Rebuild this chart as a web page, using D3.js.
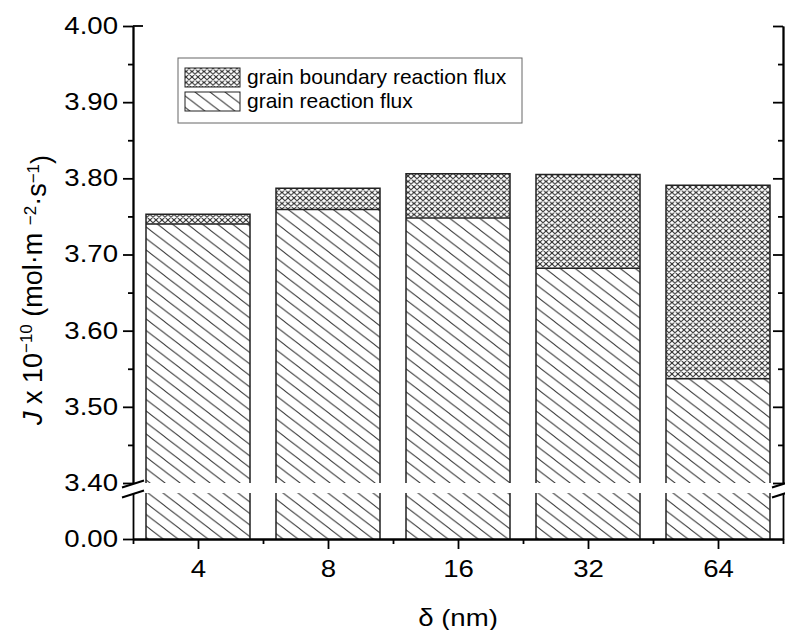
<!DOCTYPE html>
<html><head><meta charset="utf-8">
<script src="https://cdn.jsdelivr.net/npm/d3@7"></script>
<style>body{margin:0;background:#fff} svg{display:block}</style>
</head><body>
<script>
// ---- data ----
const categories = ["4", "8", "16", "32", "64"];
const grainFlux = [3.740, 3.759, 3.748, 3.682, 3.537];
const boundaryFlux = [0.013, 0.028, 0.058, 0.123, 0.254];
const yTickValues = [3.40, 3.50, 3.60, 3.70, 3.80, 3.90, 4.00];
const yMinorValues = [3.45, 3.55, 3.65, 3.75, 3.85, 3.95];
const lowTickValues = [0.00];
const legendLabels = ["grain boundary reaction flux", "grain reaction flux"];

(function () {
// ---- layout ----
const W = 785, H = 630;
const pL = 133, pR = 783, pT = 26, pB = 539, breakTop = 483, breakBot = 493;
const FONT = "'Liberation Sans', Arial, sans-serif";
const SX = 1.2; // horizontal stretch of the source figure's text

const svg = d3.select("body").append("svg").attr("width", W).attr("height", H)
  .style("font-family", FONT);

const x = d3.scaleLinear().domain([0.5, 5.5]).range([pL, pR]);
const y = d3.scaleLinear().domain([3.40, 4.00]).range([breakTop, pT]);
const yLow = d3.scaleLinear().domain([0, 0.3]).range([pB, breakBot]);

// ---- patterns ----
const defs = svg.append("defs");
function diagPattern(id, w, h, both, color, sw) {
  const p = defs.append("pattern").attr("id", id).attr("patternUnits", "userSpaceOnUse")
    .attr("width", w).attr("height", h);
  p.append("rect").attr("width", w).attr("height", h).attr("fill", "#fff");
  let d = "";
  const e = 2, eh = e * h / w;
  [-w, 0, w].forEach(s => {
    d += `M${s - e},${-eh} L${s + w + e},${h + eh} `;
    if (both) d += `M${s + w + e},${-eh} L${s - e},${h + eh} `;
  });
  p.append("path").attr("d", d).attr("stroke", color).attr("stroke-width", sw).attr("fill", "none");
}
diagPattern("hatch", 15, 11.5, false, "#3a3a3a", 1);
diagPattern("cross", 6, 5.5, true, "#2a2a2a", 1.1);

// ---- bars ----
const bw = 0.8;
const bars = svg.append("g").selectAll("g").data(categories).join("g");
bars.each(function (c, i) {
  const g = d3.select(this);
  const x0 = x(i + 1 - bw / 2), x1 = x(i + 1 + bw / 2);
  const gv = grainFlux[i], tv = grainFlux[i] + boundaryFlux[i];
  g.append("rect").attr("x", x0).attr("y", y(gv)).attr("width", x1 - x0)
    .attr("height", y(3.40) - y(gv)).attr("fill", "url(#hatch)");
  g.append("rect").attr("x", x0).attr("y", yLow(0.3)).attr("width", x1 - x0)
    .attr("height", yLow(0) - yLow(0.3)).attr("fill", "url(#hatch)");
  g.append("rect").attr("x", x0).attr("y", y(tv)).attr("width", x1 - x0)
    .attr("height", y(gv) - y(tv)).attr("fill", "url(#cross)");
  g.append("path")
    .attr("d", `M${x0},${y(3.40)} V${y(tv)} H${x1} V${y(3.40)} M${x0},${yLow(0)} V${yLow(0.3)} M${x1},${yLow(0)} V${yLow(0.3)} M${x0},${y(gv)} H${x1}`)
    .attr("fill", "none").attr("stroke", "#222").attr("stroke-width", 1.5);
});

// ---- axes ----
function styleAxis(sel) {
  sel.selectAll("path,line").attr("stroke", "#000").attr("stroke-width", 1.8);
  sel.selectAll("text").attr("font-family", FONT).attr("font-size", 23).attr("fill", "#000")
    .attr("x", function () { return (+d3.select(this).attr("x") || 0) / SX; })
    .attr("transform", `scale(${SX},1)`);
}
const fmt = d3.format(".2f");
svg.append("g").attr("transform", `translate(${pL},0)`)
  .call(d3.axisLeft(y).tickValues(yTickValues).tickFormat(fmt).tickSize(10).tickSizeOuter(0).tickPadding(5)).call(styleAxis);
svg.append("g").attr("transform", `translate(${pL},0)`)
  .call(d3.axisLeft(y).tickValues(yMinorValues).tickFormat("").tickSize(5).tickSizeOuter(0)).call(styleAxis);
svg.append("g").attr("transform", `translate(${pL},0)`)
  .call(d3.axisLeft(yLow).tickValues(lowTickValues).tickFormat(fmt).tickSize(10).tickSizeOuter(0).tickPadding(5)).call(styleAxis);
svg.append("line").attr("x1", pL).attr("x2", pL + 10).attr("y1", y(4)).attr("y2", y(4))
  .attr("stroke", "#000").attr("stroke-width", 1.8);

// right mirror axis
svg.append("g").attr("transform", `translate(${pR},0)`)
  .call(d3.axisRight(y).tickValues(yTickValues).tickFormat("").tickSize(-10).tickSizeOuter(0)).call(styleAxis);
svg.append("g").attr("transform", `translate(${pR},0)`)
  .call(d3.axisRight(y).tickValues(yMinorValues).tickFormat("").tickSize(-5).tickSizeOuter(0)).call(styleAxis);
svg.append("g").attr("transform", `translate(${pR},0)`)
  .call(d3.axisRight(yLow).tickValues(lowTickValues).tickFormat("").tickSize(0).tickSizeOuter(0)).call(styleAxis);

// x axis
svg.append("g").attr("transform", `translate(0,${pB})`)
  .call(d3.axisBottom(x).tickValues(d3.range(1, categories.length + 1)).tickFormat(d => categories[d - 1])
    .tickSize(10).tickSizeOuter(0).tickPadding(12)).call(styleAxis);
svg.append("g").attr("transform", `translate(0,${pB})`)
  .call(d3.axisBottom(x).tickValues(d3.range(0.5, categories.length + 1, 1)).tickFormat("").tickSize(5).tickSizeOuter(0)).call(styleAxis);

// break marks
[pL, pR].forEach(ax => {
  [breakTop + 1, breakBot + 1].forEach(cy => {
    svg.append("line").attr("x1", ax - 11).attr("y1", cy + 3.5).attr("x2", ax + 11).attr("y2", cy - 3.5)
      .attr("stroke", "#000").attr("stroke-width", 2);
  });
});

// ---- titles ----
svg.append("text").attr("transform", `translate(${(pL + pR) / 2},626) scale(${SX},1)`)
  .attr("text-anchor", "middle").attr("font-size", 23).text("δ (nm)");

const yt = svg.append("text").attr("transform", "translate(42,290) rotate(-90)")
  .attr("text-anchor", "middle").attr("font-size", 27);
yt.append("tspan").attr("font-style", "italic").text("J");
yt.append("tspan").text(" x 10");
yt.append("tspan").attr("font-size", 17).attr("dy", "-0.6em").text("−10");
yt.append("tspan").attr("dy", "0.38em").text(" (mol·m ");
yt.append("tspan").attr("font-size", 17).attr("dy", "-0.38em").text("−2");
yt.append("tspan").attr("dy", "0.38em").text("·s");
yt.append("tspan").attr("font-size", 17).attr("dy", "-0.38em").text("−1");
yt.append("tspan").attr("dy", "0.38em").text(")");

// ---- legend ----
const lg = svg.append("g");
lg.append("rect").attr("x", 178).attr("y", 58).attr("width", 344).attr("height", 65)
  .attr("fill", "#fff").attr("stroke", "#666").attr("stroke-width", 1);
const legendFills = ["url(#cross)", "url(#hatch)"];
legendLabels.forEach((lab, i) => {
  const yy = 68 + i * 24;
  lg.append("rect").attr("x", 185).attr("y", yy).attr("width", 55).attr("height", 19)
    .attr("fill", legendFills[i]).attr("stroke", "#222").attr("stroke-width", 1);
  lg.append("text").attr("x", 247).attr("y", yy + 16).attr("font-size", 21).text(lab);
});
})();
</script>
</body></html>
